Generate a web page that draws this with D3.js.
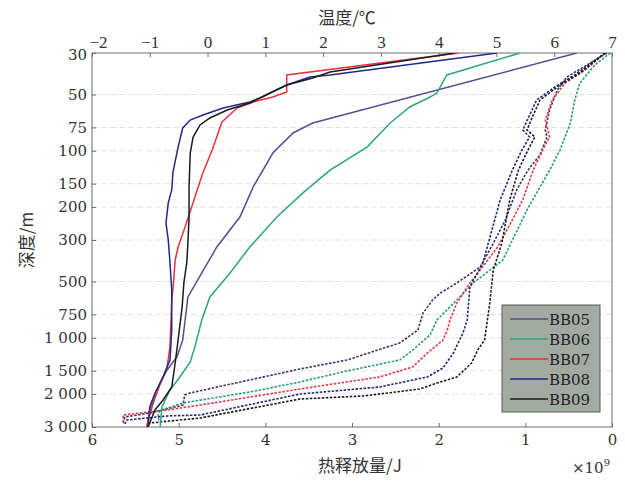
<!DOCTYPE html>
<html><head><meta charset="utf-8">
<script src="https://cdn.jsdelivr.net/npm/d3@7"></script>
<style>
html,body{margin:0;padding:0;background:#fff;}
svg{display:block;}
</style></head>
<body>
<svg id="c" width="625" height="481"></svg>
<script>
// ---- data ----
const seriesNames = ["BB05","BB06","BB07","BB08","BB09"];
const seriesColors = ["#5b4a92","#2ea57c","#e8313a","#1f2a8a","#1c1c1c"];
const dashColors = ["#3d3466","#2a9a72","#e23a4a","#1f2a7a","#1c1c1c"];

const tempTicks = [-2,-1,0,1,2,3,4,5,6,7];
const heatTicks = [6,5,4,3,2,1,0];
const depthTicks = [30,50,75,100,150,200,300,500,750,1000,1500,2000,3000];
const depthTickLabels = ["30","50","75","100","150","200","300","500","750","1 000","1 500","2 000","3 000"];

// temperature profiles [depth m, temperature °C]
const tempBB05 = [[30,6.39],[71,1.82],[80.3,1.48],[102.8,1.13],[156,0.79],[226,0.56],[327,0.16],[450,-0.10],[605,-0.34],[1028,-0.43],[1267,-0.53],[1486,-0.70],[1745,-0.82],[2232,-0.94],[2753,-1.03],[3000,-1.05]];
const tempBB06 = [[30,5.41],[39.3,4.14],[49.1,3.97],[51.6,3.85],[58.3,3.50],[71,3.16],[95.5,2.76],[127,2.12],[168,1.65],[226,1.20],[327,0.73],[450,0.39],[605,0.04],[803,-0.10],[1120,-0.22],[1347,-0.30],[1620,-0.48],[1903,-0.65],[2346,-0.79],[3000,-0.82]];
const tempBB07 = [[30,4.35],[39.3,1.37],[48.5,1.37],[51.6,1.13],[54.8,0.79],[59.1,0.51],[70.2,0.25],[99.1,0.08],[131,-0.08],[162,-0.18],[177,-0.22],[256,-0.39],[327,-0.51],[384,-0.56],[555,-0.60],[628,-0.62],[1120,-0.65],[1432,-0.70],[1903,-0.86],[2232,-0.96],[3000,-1.05]];
const tempBB08 = [[30,5.01],[39.3,2.12],[40.3,1.77],[44.5,1.37],[52.2,0.91],[54.8,0.73],[59.1,0.27],[64.4,-0.08],[68.5,-0.30],[75.5,-0.43],[95.5,-0.51],[131,-0.60],[162,-0.62],[190,-0.68],[243,-0.72],[300,-0.68],[398,-0.65],[555,-0.62],[908,-0.62],[1315,-0.65],[1620,-0.77],[1974,-0.91],[2346,-1.00],[3000,-1.03]];
const tempBB09 = [[30,4.28],[37.9,2.12],[40.8,1.82],[44.5,1.37],[49.1,1.08],[55.5,0.73],[60.5,0.34],[66.8,0.04],[72.8,-0.13],[84.4,-0.25],[102.8,-0.30],[156,-0.32],[226,-0.32],[311,-0.34],[398,-0.36],[509,-0.41],[684,-0.44],[1028,-0.51],[1364,-0.56],[1833,-0.62],[2150,-0.77],[2433,-0.91],[3000,-1.03]];

// heat release profiles [depth m, heat ×10^9 J]
const heatBB05 = [[30,0.06],[33.9,0.25],[40.3,0.52],[47.3,0.63],[60.5,0.72],[77.4,0.77],[84.4,0.75],[105,0.83],[127,0.97],[162,1.10],[234,1.23],[319,1.38],[418,1.52],[509,1.79],[576,1.98],[628,2.07],[737,2.18],[908,2.24],[1066,2.45],[1315,3.06],[1468,3.60],[1974,4.87],[2022,4.93],[2288,4.95],[2525,5.33],[2651,5.62],[2856,5.64]];
const heatBB06 = [[30,0.02],[34.8,0.20],[43.4,0.37],[53.5,0.43],[71,0.48],[99.1,0.60],[127,0.72],[162,0.85],[207,0.98],[384,1.26],[509,1.60],[628,1.79],[803,2.02],[966,2.10],[1163,2.30],[1315,2.45],[1505,3.06],[1723,3.60],[1950,4.18],[2232,4.95],[2374,5.13],[2433,5.22],[2651,5.24],[2821,5.22]];
const heatBB07 = [[30,0.08],[37,0.31],[43.4,0.54],[53.5,0.69],[68.5,0.77],[77.4,0.74],[84.4,0.72],[99.1,0.80],[127,0.91],[183,1.03],[249,1.18],[327,1.32],[434,1.52],[509,1.64],[652,1.79],[803,1.87],[908,1.90],[1028,1.95],[1206,2.13],[1432,2.30],[1620,2.68],[1879,3.60],[2288,4.75],[2433,5.13],[2587,5.64],[2856,5.64]];
const heatBB08 = [[30,0.08],[39.3,0.43],[45.6,0.66],[53.5,0.87],[64.4,0.95],[77.4,1.03],[84.4,0.95],[99.1,1.04],[127,1.15],[183,1.29],[398,1.49],[535,1.64],[803,1.67],[943,1.72],[1206,1.83],[1450,1.95],[1620,2.13],[1833,2.68],[1998,3.60],[2587,4.75],[2619,5.13],[2753,5.60],[2892,5.62]];
const heatBB09 = [[30,0.08],[38.4,0.37],[44.5,0.60],[53.5,0.83],[64.4,0.91],[77.4,0.98],[84.4,0.89],[99.1,0.97],[127,1.08],[183,1.18],[311,1.27],[434,1.37],[652,1.41],[1028,1.47],[1163,1.55],[1364,1.62],[1620,1.79],[1723,1.98],[1879,2.22],[2048,2.87],[2125,3.60],[2684,4.75],[2856,5.33]];

const tempSeries = [tempBB05,tempBB06,tempBB07,tempBB08,tempBB09];
const heatSeries = [heatBB05,heatBB06,heatBB07,heatBB08,heatBB09];

// ---- drawing ----
const svg = d3.select("#c");
const L = 92, R = 612, T = 53, B = 427;
const y = d3.scaleLog().domain([30,3000]).range([T,B]);
const xT = d3.scaleLinear().domain([-2,7]).range([L,R]);
const xH = d3.scaleLinear().domain([6,0]).range([L,R]);
const serif = "'DejaVu Serif','Liberation Serif',serif";
const serif2 = "'Liberation Serif','DejaVu Serif',serif";
const cjk = "'Noto Sans CJK SC','Noto Sans',sans-serif";
const minus = v => (v<0? "\u2212"+Math.abs(v) : String(v));

// grid
svg.append("g").selectAll("line").data(depthTicks.slice(1,-1)).join("line")
  .attr("x1",L).attr("x2",R).attr("y1",d=>y(d)).attr("y2",d=>y(d))
  .attr("stroke","#e4e4e4").attr("stroke-width",1).attr("stroke-dasharray","6,3");

// frame
svg.append("rect").attr("x",L).attr("y",T).attr("width",R-L).attr("height",B-T)
  .attr("fill","none").attr("stroke","#6d6d6d").attr("stroke-width",1);

function styleAxis(g, fam, size){
  g.attr("font-family",fam).attr("font-size",size);
  g.select(".domain").remove();
  g.selectAll(".tick line").attr("stroke","#6d6d6d");
  g.selectAll(".tick text").attr("font-family",fam).attr("font-size",size).attr("fill","#333");
}
const topAx = svg.append("g").attr("transform",`translate(0,${T})`)
  .call(d3.axisTop(xT).tickValues(tempTicks).tickSize(-4).tickPadding(5).tickFormat(minus))
  .call(g=>styleAxis(g, serif2, 17));
topAx.selectAll(".tick text").filter(d=>d===-2).attr("dx",6);
svg.append("g").attr("transform",`translate(0,${B})`)
  .call(d3.axisBottom(xH).tickValues(heatTicks).tickSize(-4).tickPadding(7).tickFormat(d=>String(d)))
  .call(g=>styleAxis(g, serif, 15));
const leftAx = svg.append("g").attr("transform",`translate(${L},0)`)
  .call(d3.axisLeft(y).tickValues(depthTicks).tickSize(-4).tickPadding(5)
    .tickFormat((d,i)=>depthTickLabels[i]))
  .call(g=>styleAxis(g, serif, 15));
leftAx.selectAll(".tick text").filter(d=>d===30).attr("dy","0.45em");

// lines
const lineT = d3.line().x(d=>xT(d[1])).y(d=>y(d[0]));
const lineH = d3.line().x(d=>xH(d[1])).y(d=>y(d[0]));
svg.append("clipPath").attr("id","clp").append("rect")
  .attr("x",L).attr("y",T).attr("width",R-L).attr("height",B-T);
const plot = svg.append("g").attr("clip-path","url(#clp)");
heatSeries.forEach((s,i)=>{
  plot.append("path").datum(s).attr("d",lineH).attr("fill","none")
    .attr("stroke",dashColors[i]).attr("stroke-width",1.6)
    .attr("stroke-dasharray","2.5,1.5");
});
tempSeries.forEach((s,i)=>{
  plot.append("path").datum(s).attr("d",lineT).attr("fill","none")
    .attr("stroke",seriesColors[i]).attr("stroke-width",1.5);
});

// titles
svg.append("text").attr("x",347).attr("y",24).attr("text-anchor","middle")
  .attr("font-family",cjk).attr("font-size",17).attr("fill","#333").text("温度/℃");
svg.append("text").attr("transform","translate(33,240) rotate(-90)").attr("text-anchor","middle")
  .attr("font-family",cjk).attr("font-size",17).attr("fill","#333").text("深度/m");
svg.append("text").attr("x",360).attr("y",472).attr("text-anchor","middle")
  .attr("font-family",cjk).attr("font-size",17).attr("fill","#333").text("热释放量/J");
const ex = svg.append("text").attr("x",572).attr("y",473)
  .attr("font-family",serif).attr("font-size",15).attr("fill","#333");
ex.append("tspan").text("×10");
ex.append("tspan").attr("dy",-7).attr("font-size",10).text("9");

// legend
const lg = svg.append("g");
lg.append("rect").attr("x",502).attr("y",305).attr("width",98).attr("height",107)
  .attr("fill","#a2aaa2").attr("stroke","#5a5a5a").attr("stroke-width",1);
seriesNames.forEach((n,i)=>{
  const yy = 319 + i*20;
  lg.append("line").attr("x1",510).attr("x2",548).attr("y1",yy).attr("y2",yy)
    .attr("stroke",seriesColors[i]).attr("stroke-width",1.5);
  lg.append("text").attr("x",549).attr("y",yy+5.5).attr("font-family",serif)
    .attr("font-size",15).attr("fill","#222").text(n);
});
</script>
</body></html>
